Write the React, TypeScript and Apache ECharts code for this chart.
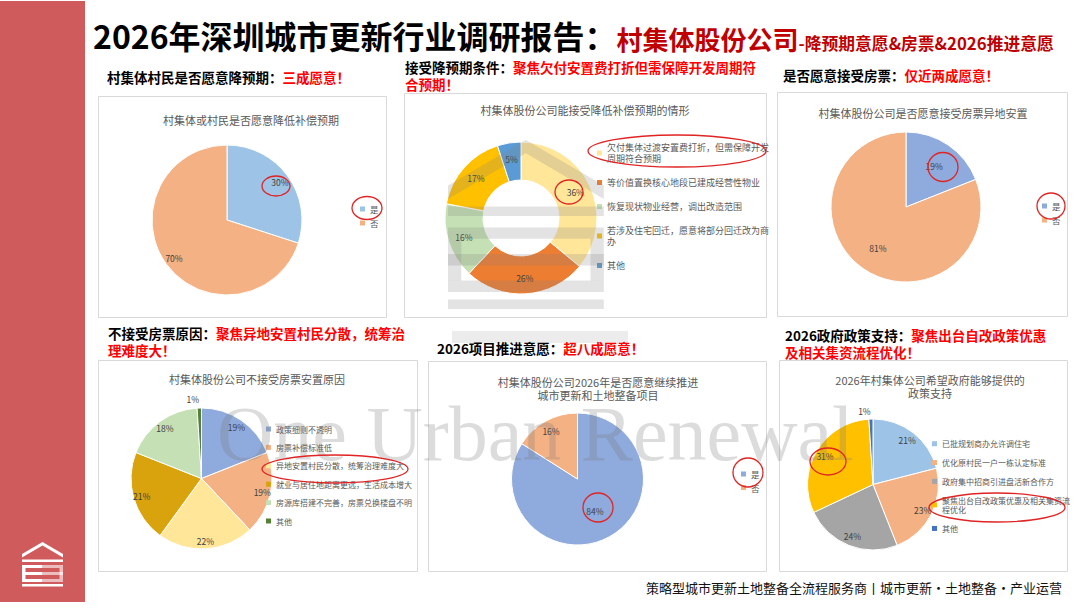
import React, { useEffect, useRef } from 'react';
import * as echarts from 'echarts';

const FONT = '"Noto Sans CJK SC","Noto Sans",sans-serif';
const LABEL_COLOR = '#404040';
const TITLE_COLOR = '#595959';
const RED = '#FF0000';
const MARK = '#E02424';

// ---------- Panel 1: 村集体或村民是否愿意降低补偿预期 ----------
const p1Names = ['是', '否'];
const p1Values = [30, 70];
const p1Colors = ['#9DC3E6', '#F4B183'];

// ---------- Panel 2: 村集体股份公司能接受降低补偿预期的情形 ----------
const p2Names = [
  '欠付集体过渡安置费打折，但需保障开发周期符合预期',
  '等价值置换核心地段已建成经营性物业',
  '恢复现状物业经营，调出改造范围',
  '若涉及住宅回迁，愿意将部分回迁改为商办',
  '其他',
];
const p2Values = [36, 26, 16, 17, 5];
const p2Colors = ['#FFE699', '#ED7D31', '#C5E0B4', '#FFC000', '#5B9BD5'];

// ---------- Panel 3: 村集体股份公司是否愿意接受房票异地安置 ----------
const p3Names = ['是', '否'];
const p3Values = [19, 81];
const p3Colors = ['#8FAADC', '#F4B183'];

// ---------- Panel 4: 村集体股份公司不接受房票安置原因 ----------
const p4Names = [
  '政策细则不透明',
  '房票补偿标准低',
  '异地安置村民分散，统筹治理难度大',
  '就业与居住地距离更远，生活成本增大',
  '房源库搭建不完善，房票兑换楼盘不明确',
  '其他',
];
const p4Values = [19, 19, 22, 21, 18, 1];
const p4Colors = ['#8FAADC', '#F4B183', '#FFE699', '#D9A30E', '#C5E0B4', '#548235'];

// ---------- Panel 5: 村集体股份公司2026年是否愿意继续推进城市更新和土地整备项目 ----------
const p5Names = ['是', '否'];
const p5Values = [84, 16];
const p5Colors = ['#8FAADC', '#F4B183'];

// ---------- Panel 6: 2026年村集体公司希望政府能够提供的政策支持 ----------
const p6Names = [
  '已批规划商办允许调住宅',
  '优化原村民一户一栋认定标准',
  '政府集中招商引进盘活新合作方',
  '聚焦出台自改政策优惠及相关集资流程优化',
  '其他',
];
const p6Values = [21, 23, 24, 31, 1];
const p6Colors = ['#9DC3E6', '#F4B183', '#A5A5A5', '#FFC000', '#4472C4'];

type Mode = 'center' | 'ring' | 'outside';

const labelBase = {
  formatter: '{c}%',
  fontSize: 8.5,
  color: LABEL_COLOR,
  fontFamily: FONT,
};

function pieSeries(
  names: string[],
  values: number[],
  colors: string[],
  center: [number, number],
  radius: [number, number],
  modes: Mode[],
  labelRing?: [number, number],
  outsideLen = 9
) {
  const main: any = {
    type: 'pie',
    center,
    radius,
    startAngle: 90,
    clockwise: true,
    avoidLabelOverlap: false,
    silent: true,
    emphasis: { disabled: true },
    itemStyle: { borderColor: '#fff', borderWidth: 1 },
    label: { show: true, position: 'inside', ...labelBase },
    labelLine: { show: false },
    data: names.map((n, i) => ({
      name: n,
      value: values[i],
      itemStyle: { color: colors[i] },
      label: { show: modes[i] === 'center' },
    })),
  };
  const out: any[] = [main];
  if (labelRing) {
    out.push({
      type: 'pie',
      center,
      radius: labelRing,
      startAngle: 90,
      clockwise: true,
      avoidLabelOverlap: false,
      silent: true,
      z: 3,
      emphasis: { disabled: true },
      itemStyle: { color: 'rgba(0,0,0,0)', borderWidth: 0 },
      label: { show: true, position: 'inside', ...labelBase },
      labelLine: { show: false, length: outsideLen, length2: 0 },
      data: names.map((n, i) => ({
        name: n,
        value: values[i],
        itemStyle: { color: 'rgba(0,0,0,0)' },
        label:
          modes[i] === 'ring'
            ? { show: true, position: 'inside' }
            : modes[i] === 'outside'
            ? { show: true, position: 'outside', distanceToLabelLine: 0 }
            : { show: false },
        labelLine: { show: false, length: outsideLen, length2: 0 },
      })),
    });
  }
  return out;
}

function legendOf(
  names: string[],
  colors: string[],
  left: number,
  top: number,
  fontSize: number,
  lineHeight: number,
  itemGap: number,
  width?: number,
  overflow?: string
) {
  return {
    orient: 'vertical',
    left,
    top,
    padding: 0,
    itemWidth: 5,
    itemHeight: 5,
    itemGap,
    icon: 'rect',
    selectedMode: false,
    z: 4,
    textStyle: {
      fontSize,
      lineHeight,
      color: TITLE_COLOR,
      fontFamily: FONT,
      ...(width ? { width, overflow, ellipsis: '' } : {}),
    },
    data: names.map((n, i) => ({ name: n, icon: 'rect', itemStyle: { color: colors[i], borderWidth: 0 } })),
  };
}

function logoGroup(x: number, y: number, s: number, L: string, R: string, z: number) {
  const r = (rx: number, ry: number, w: number, h: number, fill: string) => ({
    type: 'rect',
    z,
    silent: true,
    shape: { x: rx, y: ry, width: w, height: h },
    style: { fill },
  });
  return {
    type: 'group',
    x,
    y,
    scaleX: s,
    scaleY: s,
    z,
    silent: true,
    children: [
      {
        type: 'polygon',
        z,
        silent: true,
        shape: { points: [[0, 12], [20.5, 0], [41, 12], [41, 15.5], [20.5, 3.5], [0, 15.5]] },
        style: { fill: L },
      },
      r(0, 17.5, 41, 2.5, L),
      r(0, 23, 20.5, 3, L),
      r(20.5, 23, 20.5, 3, R),
      r(0, 26, 3.5, 11, L),
      r(0, 30, 20.5, 3, L),
      r(20.5, 30, 20.5, 3, R),
      r(0, 37, 20.5, 3, L),
      r(20.5, 37, 20.5, 3, R),
      r(37.5, 26, 3.5, 11, R),
      r(0, 42, 41, 2.5, L),
    ],
  };
}

const subRich = {
  a: { fontSize: 13.5, fontWeight: 'bold', fill: '#000', fontFamily: FONT, lineHeight: 17 },
  b: { fontSize: 13.5, fontWeight: 'bold', fill: RED, fontFamily: FONT, lineHeight: 17 },
};

function subtitle(x: number, yTop: number, text: string) {
  return {
    type: 'text',
    z: 5,
    silent: true,
    style: { x, y: yTop, text, rich: subRich, verticalAlign: 'top', align: 'left' },
  };
}

function chartTitle(x: number, yTop: number, text: string) {
  return {
    type: 'text',
    z: 5,
    silent: true,
    style: {
      x,
      y: yTop,
      text,
      fontSize: 11,
      lineHeight: 13,
      fontFamily: FONT,
      fill: TITLE_COLOR,
      align: 'center',
      verticalAlign: 'top',
    },
  };
}

function box(x: number, y: number, w: number, h: number) {
  return {
    type: 'rect',
    z: 0,
    silent: true,
    shape: { x, y, width: w, height: h },
    style: { fill: '#fff', stroke: '#D9D9D9', lineWidth: 1 },
  };
}

function ring(cx: number, cy: number, rx: number, ry: number) {
  return {
    type: 'ellipse',
    z: 20,
    silent: true,
    shape: { cx, cy, rx, ry },
    style: { fill: 'none', stroke: MARK, lineWidth: 1.3 },
  };
}

function buildOption() {
  const series = [
    ...pieSeries(p1Names, p1Values, p1Colors, [227, 220], [0, 75], ['ring', 'ring'], [50, 75]),
    ...pieSeries(p2Names, p2Values, p2Colors, [521, 218], [38, 76], ['center', 'center', 'center', 'center', 'center']),
    ...pieSeries(p3Names, p3Values, p3Colors, [906, 207], [0, 75], ['ring', 'ring'], [19, 75]),
    ...pieSeries(
      p4Names,
      p4Values,
      p4Colors,
      [201.5, 478.5],
      [0, 70.5],
      ['ring', 'ring', 'ring', 'ring', 'ring', 'outside'],
      [48, 70.5],
      9
    ),
    ...pieSeries(p5Names, p5Values, p5Colors, [577.5, 479], [0, 66], ['center', 'ring'], [38, 66]),
    ...pieSeries(
      p6Names,
      p6Values,
      p6Colors,
      [873, 484.5],
      [0, 65.5],
      ['ring', 'ring', 'ring', 'ring', 'outside'],
      [40, 65.5],
      8
    ),
  ];

  const legend = [
    legendOf(p1Names, p1Colors, 360, 203.5, 8.5, 11, 3),
    legendOf(p2Names, p2Colors, 597, 142, 9, 11, 13, 163, 'break'),
    legendOf(p3Names, p3Colors, 1042, 200.5, 8.5, 11, 3),
    legendOf(p4Names, p4Colors, 266, 424, 8, 10, 8.4, 140, 'truncate'),
    legendOf(p5Names, p5Colors, 741, 468.5, 8.5, 11, 2.5),
    legendOf(p6Names, p6Colors, 932, 439, 8, 9.5, 9.3, 129, 'break'),
  ];

  const elements: any[] = [
    // left red band
    {
      type: 'rect',
      z: 0,
      silent: true,
      shape: { x: 0, y: 1, width: 85, height: 601 },
      style: { fill: '#D05B5C' },
    },
    logoGroup(22, 542, 1, '#FFFFFF', 'rgba(255,255,255,0.6)', 2),
    // main title
    {
      type: 'text',
      z: 5,
      silent: true,
      style: {
        x: 93,
        y: 35,
        verticalAlign: 'middle',
        text: '{a|2026年深圳城市更新行业调研报告：}{b|村集体股份公司}{c|-降预期意愿&房票&2026推进意愿}',
        rich: {
          a: { fontSize: 32, fontWeight: 'bold', fill: '#000', fontFamily: FONT, verticalAlign: 'bottom' },
          b: { fontSize: 26, fontWeight: 'bold', fill: '#C00000', fontFamily: FONT, verticalAlign: 'bottom' },
          c: { fontSize: 16.8, fontWeight: 'bold', fill: '#C00000', fontFamily: FONT, verticalAlign: 'bottom' },
        },
      },
    },
    // panel boxes
    box(98.5, 96.5, 288, 221),
    box(404.5, 93.5, 362, 224),
    box(777.5, 92.5, 290, 224),
    box(98.5, 360.5, 319, 211),
    box(428.5, 361.5, 338, 210),
    box(779.5, 360.5, 288, 211),
    // faint bar above panel 5 heading
    {
      type: 'rect',
      z: 1,
      silent: true,
      shape: { x: 452, y: 331, width: 176, height: 12 },
      style: { fill: '#ECECEC' },
    },
    // panel headings
    subtitle(107, 68.5, '{a|村集体村民是否愿意降预期：}{b|三成愿意！}'),
    subtitle(405, 58.5, '{a|接受降预期条件：}{b|聚焦欠付安置费打折但需保障开发周期符}\n{b|合预期！}'),
    subtitle(783, 66.5, '{a|是否愿意接受房票：}{b|仅近两成愿意！}'),
    subtitle(108, 324.5, '{a|不接受房票原因：}{b|聚焦异地安置村民分散，统筹治}\n{b|理难度大！}'),
    subtitle(437, 339.5, '{a|2026项目推进意愿：}{b|超八成愿意！}'),
    subtitle(785, 326.5, '{a|2026政府政策支持：}{b|聚焦出台自改政策优惠}\n{b|及相关集资流程优化！}'),
    // chart titles
    chartTitle(251, 113.5, '村集体或村民是否愿意降低补偿预期'),
    chartTitle(585, 103.5, '村集体股份公司能接受降低补偿预期的情形'),
    chartTitle(923, 106.5, '村集体股份公司是否愿意接受房票异地安置'),
    chartTitle(257, 372.5, '村集体股份公司不接受房票安置原因'),
    chartTitle(598, 375, '村集体股份公司2026年是否愿意继续推进\n城市更新和土地整备项目'),
    chartTitle(930, 373.5, '2026年村集体公司希望政府能够提供的\n政策支持'),
    // house watermark in panel 2
    logoGroup(448, 140, 3.8, 'rgba(128,128,128,0.22)', 'rgba(128,128,128,0.22)', 10),
    // big watermark text
    {
      type: 'text',
      z: 10,
      silent: true,
      style: {
        x: 217,
        y: 433,
        text: 'One Urban Renewal',
        fontSize: 78,
        fontFamily: '"Liberation Serif","DejaVu Serif",serif',
        fill: 'rgba(120,120,120,0.26)',
        align: 'left',
        verticalAlign: 'middle',
      },
    },
    // red annotation ellipses
    ring(276, 186, 14, 10),
    ring(367, 208, 15, 11.5),
    ring(677, 151, 89, 16),
    ring(569, 192, 14, 12),
    ring(943, 167, 15, 14.5),
    ring(1051, 206, 14, 13),
    ring(335, 469, 73, 14),
    ring(748, 472.5, 15, 14.5),
    ring(598, 507.5, 15, 14.5),
    ring(828, 461.5, 18, 13.5),
    ring(997, 507.5, 68, 14.5),
    // footer
    {
      type: 'text',
      z: 5,
      silent: true,
      style: {
        x: 1062,
        y: 587,
        text: '策略型城市更新土地整备全流程服务商丨城市更新・土地整备・产业运营',
        fontSize: 13,
        fontFamily: FONT,
        fill: '#111',
        align: 'right',
        verticalAlign: 'middle',
      },
    },
  ];

  return {
    animation: false,
    backgroundColor: '#fff',
    legend,
    series,
    graphic: { elements },
  };
}

export default function App() {
  const ref = useRef<HTMLDivElement>(null);
  useEffect(() => {
    if (!ref.current) return;
    const chart = echarts.init(ref.current, null, { renderer: 'svg' });
    chart.setOption(buildOption() as any);
    return () => chart.dispose();
  }, []);
  return (
    <div
      ref={ref}
      style={{ position: 'absolute', left: 0, top: 0, width: 1080, height: 608, background: '#fff' }}
    />
  );
}
